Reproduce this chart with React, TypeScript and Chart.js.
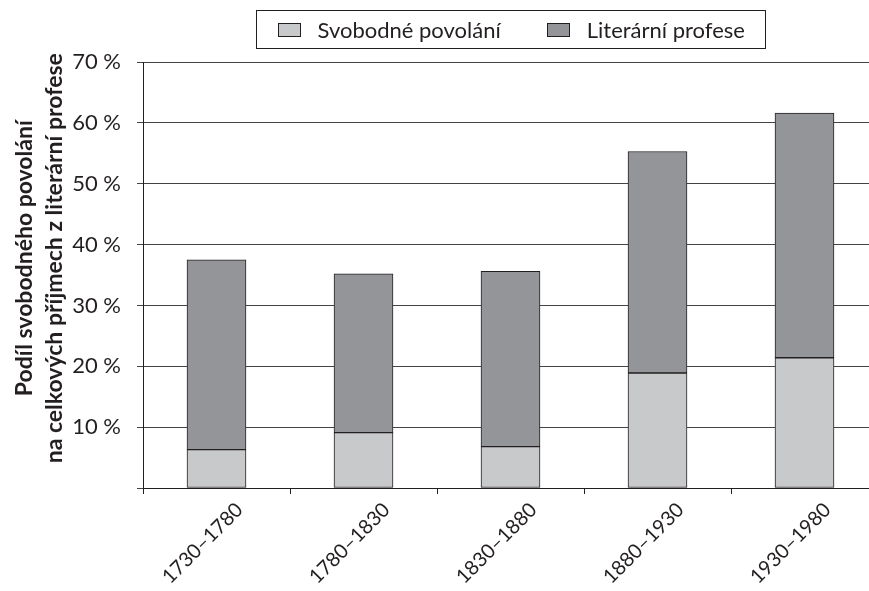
import React, { useEffect, useRef } from 'react';
import { Chart, registerables } from 'chart.js';

Chart.register(...registerables);

const categories = ['1730–1780', '1780–1830', '1830–1880', '1880–1930', '1930–1980'];
const svobodnePovolani = [6.3, 9.1, 6.8, 18.9, 21.4];
const literarniProfese = [31.2, 26.1, 28.8, 36.4, 40.2];
const seriesLabels = ['Svobodné povolání', 'Literární profese'];
const seriesColors = ['#c8c9cb', '#939598'];
const yTitle = [
  '\u00a0\u00a0\u00a0\u00a0\u00a0\u00a0Podíl svobodného povolání',
  '\u00a0\u00a0\u00a0\u00a0\u00a0\u00a0na celkových příjmech z literární profese',
];
const yMin = 0;
const yMax = 70;
const yStep = 10;

const FONT = 'Lato, "Open Sans", sans-serif';
const INK = '#231f20';

const boxLegend = {
  id: 'boxLegend',
  afterDraw(chart: any) {
    const ctx = chart.ctx;
    const { left, right } = chart.chartArea;
    ctx.save();
    ctx.font = `22px ${FONT}`;
    const sw = 22, sh = 13, gapText = 18, gapItem = 46, padX = 21;
    const items = chart.data.datasets.map((ds: any) => ({
      label: ds.label,
      color: ds.backgroundColor,
      w: ctx.measureText(ds.label).width,
    }));
    const total =
      items.reduce((s: number, it: any) => s + sw + gapText + it.w, 0) +
      gapItem * (items.length - 1) +
      padX * 2;
    const cx = (left + right) / 2;
    const x0 = Math.round(cx - total / 2) + 0.5;
    const top = 10.5;
    const h = 38;
    ctx.strokeStyle = INK;
    ctx.lineWidth = 1;
    ctx.strokeRect(x0, top, Math.round(total), h);
    let x = x0 + padX;
    const cy = top + h / 2;
    ctx.textBaseline = 'middle';
    ctx.textAlign = 'left';
    items.forEach((it: any) => {
      const bx = Math.round(x) + 0.5;
      const by = Math.round(cy - sh / 2) + 0.5;
      ctx.fillStyle = it.color;
      ctx.fillRect(bx, by, sw, sh);
      ctx.strokeStyle = INK;
      ctx.strokeRect(bx, by, sw, sh);
      ctx.fillStyle = INK;
      ctx.fillText(it.label, x + sw + gapText, cy + 1);
      x += sw + gapText + it.w + gapItem;
    });
    ctx.restore();
  },
};

export default function App() {
  const ref = useRef<HTMLCanvasElement | null>(null);

  useEffect(() => {
    if (!ref.current) return;
    const common = {
      borderColor: INK,
      borderWidth: 1,
      borderSkipped: false,
      barThickness: 59,
    };
    const chart = new Chart(ref.current, {
      type: 'bar',
      data: {
        labels: categories,
        datasets: [
          {
            label: seriesLabels[0],
            data: svobodnePovolani,
            backgroundColor: seriesColors[0],
            ...common,
          },
          {
            label: seriesLabels[1],
            data: literarniProfese,
            backgroundColor: seriesColors[1],
            ...common,
          },
        ],
      },
      options: {
        responsive: false,
        animation: false,
        devicePixelRatio: 1,
        layout: { padding: { top: 62, right: 0, bottom: 0, left: 0 } },
        plugins: {
          legend: { display: false },
          tooltip: { enabled: false },
        },
        scales: {
          x: {
            stacked: true,
            offset: true,
            grid: {
              display: true,
              drawOnChartArea: false,
              drawTicks: true,
              tickLength: 6,
              color: INK,
              offset: true,
            },
            border: { display: true, color: INK, width: 1 },
            ticks: {
              color: INK,
              font: { family: FONT, size: 20 },
              minRotation: 45,
              maxRotation: 45,
              autoSkip: false,
              padding: 4,
              labelOffset: 23,
            },
            afterFit: (s: any) => {
              s.height = 103;
            },
          },
          y: {
            stacked: true,
            min: yMin,
            max: yMax,
            ticks: {
              stepSize: yStep,
              color: INK,
              font: { family: FONT, size: 22 },
              padding: 16,
              callback: (v: any) => (v === 0 ? '' : `${v} %`),
            },
            grid: { color: '#444', tickLength: 6, drawTicks: true },
            border: { display: true, color: INK, width: 1 },
            title: {
              display: true,
              text: yTitle,
              color: INK,
              font: { family: FONT, size: 23, weight: 'bold', lineHeight: 1.3 },
              padding: { top: 10, bottom: 0 },
            },
            afterFit: (s: any) => {
              s.width = 143;
            },
          },
        },
      },
      plugins: [boxLegend],
    } as any);
    return () => chart.destroy();
  }, []);

  return (
    <div
      style={{
        position: 'fixed',
        left: 0,
        top: 0,
        width: 869,
        height: 591,
        overflow: 'hidden',
        background: '#fff',
      }}
    >
      <canvas ref={ref} width={878} height={591} style={{ display: 'block' }} />
    </div>
  );
}
